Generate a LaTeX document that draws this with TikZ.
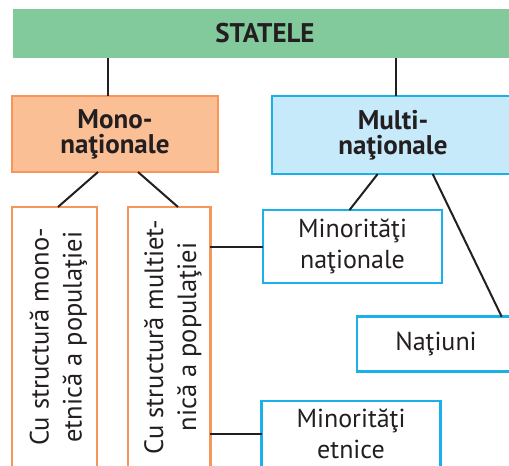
\documentclass[tikz,border=0pt]{standalone}
\usepackage{fontspec}
\setmainfont{PT Sans}
\usetikzlibrary{calc}
\definecolor{txt}{HTML}{231F20}
\definecolor{gfill}{HTML}{82CA9C}
\definecolor{ofill}{HTML}{FBBF95}
\definecolor{oline}{HTML}{F7965A}
\definecolor{bfill}{HTML}{C7EAFB}
\definecolor{bline}{HTML}{1AB0EA}
\begin{document}
\begin{tikzpicture}[x=1pt,y=-1pt,
  every node/.style={inner sep=0pt,outer sep=0pt,text=txt,align=center},
  reg/.style={font=\fontsize{26}{31}\selectfont},
  bld/.style={font=\fontsize{27}{25}\selectfont\bfseries},
  vert/.style={font=\fontsize{26.5}{33}\selectfont},
  gbox/.style={fill=gfill,draw=none},
  obox/.style={fill=ofill,draw=oline,line width=2.5pt},
  owhite/.style={fill=white,draw=oline,line width=2.5pt},
  bbox/.style={fill=bfill,draw=bline,line width=2.5pt},
  bwhite/.style={fill=white,draw=bline,line width=2.5pt},
  conn/.style={draw=txt,line width=2pt}]
\useasboundingbox (0,0) rectangle (509,466);
% nodes
\node[gbox,bld,minimum width=504pt,minimum height=49pt] (st) at (265,33.5) {STATELE};
\node[obox,bld,minimum width=206pt,minimum height=76pt] (mono) at (115,134) {Mono-\\naţionale};
\node[bbox,bld,minimum width=242pt,minimum height=78pt] (multi) at (393,135) {Multi-\\naţionale};
\node[owhite,vert,minimum width=85pt,minimum height=260pt] (v1) at (54.5,337)
  {\hspace*{8pt}\rotatebox{90}{\begin{tabular}{@{}c@{}}Cu structură mono-\\etnică a populaţiei\end{tabular}}};
\node[owhite,vert,minimum width=82.5pt,minimum height=260pt] (v2) at (169,337)
  {\hspace*{8pt}\rotatebox{90}{\begin{tabular}{@{}c@{}}Cu structură multiet-\\nică a populaţiei\end{tabular}}};
\node[bwhite,reg,minimum width=179pt,minimum height=73pt] (minnat) at (352.5,246.5) {Minorităţi\\naţionale};
\node[bwhite,reg,minimum width=158pt,minimum height=55pt] (nat) at (436,344.2) {Naţiuni};
\node[bwhite,reg,minimum width=179pt,minimum height=66pt] (minet) at (351,434) {Minorităţi\\etnice};
% connectors
\draw[conn] ([xshift=-7pt]st.south -| mono.north) -- ([xshift=-7pt]mono.north);
\draw[conn] ([xshift=3pt]st.south -| multi.north) -- ([xshift=3pt]multi.north);
\draw[conn] ([xshift=-17pt]mono.south) -- ([xshift=3.5pt]v1.north);
\draw[conn] ([xshift=23pt]mono.south) -- ([xshift=9pt]v2.north);
\draw[conn] ([xshift=-15.3pt]multi.south) -- ([xshift=-3pt]minnat.north);
\draw[conn] ([xshift=39.7pt]multi.south) -- ([xshift=65.7pt]nat.north);
\draw[conn] (minnat.west) -- (minnat.west -| v2.east);
\draw[conn] (minet.west) -- (minet.west -| v2.east);
\end{tikzpicture}
\end{document}
